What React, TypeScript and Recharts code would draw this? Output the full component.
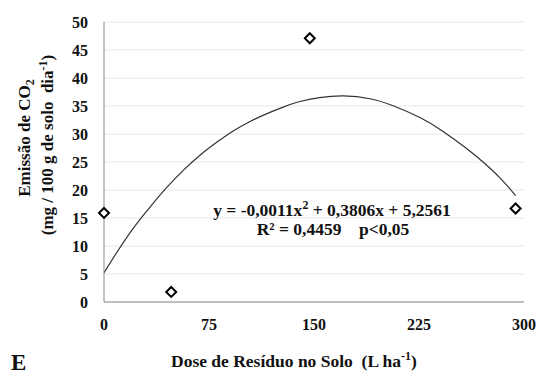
import React from "react";
import {
  ComposedChart,
  Line,
  Scatter,
  XAxis,
  YAxis,
  CartesianGrid,
  Label,
} from "recharts";

// dose de resíduo (L/ha) x emissão de CO2 observada
const DOSE = [0, 48, 147, 294];
const EMISSAO = [15.9, 1.8, 47.1, 16.7];

// linha de tendência
const TREND_X = [0, 9, 21, 33, 45, 57, 69, 81, 92, 104, 116, 128, 140, 154, 171, 190, 207, 226, 242, 259, 273, 285, 294];
const TREND_Y = [5.2, 8.8, 13.2, 17.0, 20.5, 23.6, 26.3, 28.6, 30.5, 32.2, 33.6, 34.8, 35.8, 36.5, 36.8, 36.3, 35.0, 32.9, 30.5, 27.4, 24.5, 21.6, 19.0];

const X_TICKS = [0, 75, 150, 225, 300];
const Y_TICKS = [0, 5, 10, 15, 20, 25, 30, 35, 40, 45, 50];

const FONT = "'Liberation Serif', 'Times New Roman', serif";

const points = DOSE.map((x, i) => ({ x, y: EMISSAO[i] }));
const trend = TREND_X.map((x, i) => ({ x, y: TREND_Y[i] }));

const Diamond = (props: any) => {
  const { cx, cy } = props;
  if (cx == null || cy == null) return null;
  const r = 5;
  return (
    <path
      d={`M${cx},${cy - r} L${cx + r},${cy} L${cx},${cy + r} L${cx - r},${cy} Z`}
      fill="#fff"
      stroke="#000"
      strokeWidth={2}
    />
  );
};

const YTitle = () => {
  const cy = 140;
  return (
    <g fontFamily={FONT} fontWeight="bold" fontSize={17} fill="#111">
      <text x={30} y={cy - 2} transform={`rotate(-90 30 ${cy - 2})`} textAnchor="middle">
        Emissão de CO
        <tspan fontSize={12} dy={4}>2</tspan>
      </text>
      <text x={53} y={cy + 5} transform={`rotate(-90 53 ${cy + 5})`} textAnchor="middle">
        (mg / 100 g de solo{"\u00a0\u00a0"}dia
        <tspan fontSize={12} dy={-6}>-1</tspan>
        <tspan dy={6}>)</tspan>
      </text>
    </g>
  );
};

const tickStyle = {
  fontFamily: FONT,
  fontWeight: "bold" as const,
  fontSize: 16,
  fill: "#111",
};

export default function App() {
  return (
    <div style={{ position: "absolute", left: 0, top: 0, width: 544, height: 374, background: "#fff" }}>
      <ComposedChart
        width={544}
        height={374}
        margin={{ top: 22, right: 20, bottom: 0, left: 0 }}
      >
        <CartesianGrid horizontal vertical={false} stroke="#e6e6e6" />
        <XAxis
          type="number"
          dataKey="x"
          domain={[0, 300]}
          ticks={X_TICKS}
          height={72}
          tick={tickStyle}
          tickLine={false}
          tickMargin={11}
          axisLine={{ stroke: "#8c8c8c" }}
        />
        <YAxis
          type="number"
          dataKey="y"
          domain={[0, 50]}
          ticks={Y_TICKS}
          width={104}
          tick={tickStyle}
          tickLine={false}
          tickMargin={10}
          axisLine={{ stroke: "#8c8c8c" }}
        >
          <Label content={() => <YTitle />} />
        </YAxis>
        <Line
          data={trend}
          dataKey="y"
          type="natural"
          stroke="#333"
          strokeWidth={1.2}
          dot={false}
          activeDot={false}
          isAnimationActive={false}
        />
        <Scatter
          data={points}
          dataKey="y"
          shape={<Diamond />}
          isAnimationActive={false}
        />
      </ComposedChart>
      <svg
        width={544}
        height={374}
        style={{ position: "absolute", left: 0, top: 0, pointerEvents: "none" }}
        fontFamily={FONT}
        fontWeight="bold"
        fill="#111"
      >
        <text x={332} y={216} fontSize={17.5} textAnchor="middle">
          y = -0,0011x
          <tspan fontSize={12} dy={-7}>2</tspan>
          <tspan dy={7}> + 0,3806x + 5,2561</tspan>
        </text>
        <text x={333} y={235} fontSize={17.5} textAnchor="middle" xmlSpace="preserve">
          R² = 0,4459    p{"<"}0,05
        </text>
        <text x={171} y={367} fontSize={17.5} xmlSpace="preserve">
          Dose de Resíduo no Solo  (L ha
          <tspan fontSize={12} dy={-7}>-1</tspan>
          <tspan dy={7}>)</tspan>
        </text>
        <text x={11} y={370} fontSize={23}>E</text>
      </svg>
    </div>
  );
}
